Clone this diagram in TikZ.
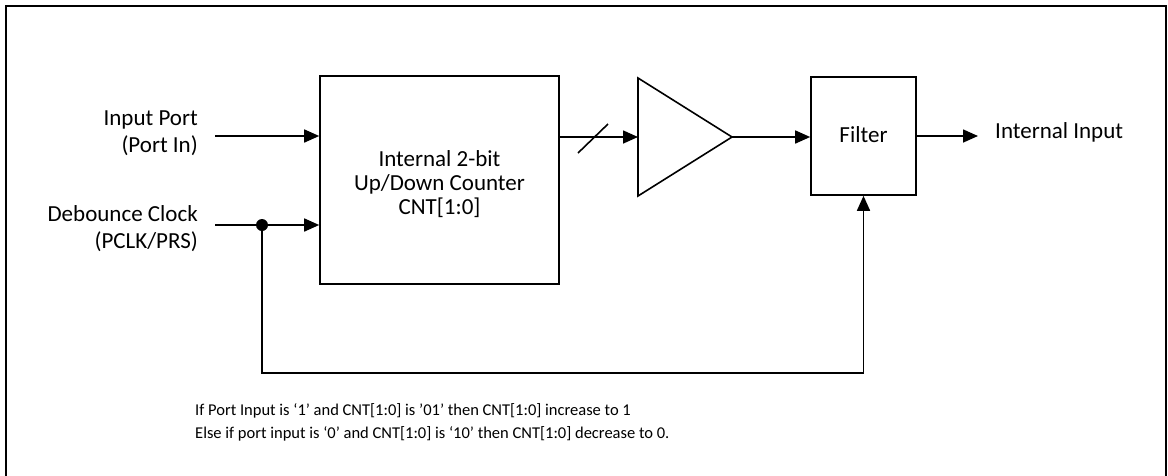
\documentclass[tikz,border=0pt]{standalone}
\usepackage{fontspec}
\setmainfont{Carlito}
\usetikzlibrary{arrows.meta}
\begin{document}
\begin{tikzpicture}[x=1pt,y=-1pt,
  wire/.style={line width=1.6pt},
  arr/.style={wire,-{Triangle[length=15pt,width=13pt]}},
  blk/.style={draw,line width=1.6pt,inner sep=0pt},
  lbl/.style={font=\fontsize{23}{27}\selectfont,inner sep=0pt},
  note/.style={font=\fontsize{16.5}{23}\selectfont,inner sep=0pt,align=left}]
\useasboundingbox (0,0) rectangle (1168,475);
% frame
\draw[line width=2.2pt] (6,480) -- (6,6) -- (1166,6) -- (1166,480);
% blocks
\node[blk,minimum width=239pt,minimum height=208pt] (cnt) at (439.5,180) {};
\node[lbl,align=center,font=\fontsize{23}{24}\selectfont] (cnttxt) at (439.5,184)
  {Internal 2-bit\\Up/Down Counter\\CNT[1:0]};
\node[blk,minimum width=105pt,minimum height=118pt] (flt) at (863.5,136) {};
\node[lbl] (flttxt) at (863.5,135) {Filter};
\coordinate (triW) at (638,137);
\coordinate (triE) at (732,137);
\coordinate (triN) at (638,78);
\coordinate (triS) at (638,196);
\draw[wire,line join=miter] (triN) -- (triE) -- (triS) -- cycle;
% labels
\node[lbl,align=right,anchor=east] (inp) at (198,133) {Input Port\\(Port In)};
\node[lbl,align=right,anchor=east] (clk) at (198,229) {Debounce Clock\\(PCLK/PRS)};
\node[lbl,anchor=west] (out) at (995,132) {Internal Input};
% connectors
\coordinate (inS) at (215,136);
\coordinate (clkS) at (215,225);
\coordinate (dot) at (262,225);
\coordinate (corner1) at (262,373);
\coordinate (corner2) at (863.5,373);
\coordinate (outE) at (978,136);
\coordinate (slA) at (578,153);
\coordinate (slB) at (608,124);
\draw[arr] (inS) -- (cnt.west |- inS);
\draw[arr] (clkS) -- (cnt.west |- clkS);
\fill (dot) circle (6pt);
\draw[arr] (dot) -- (corner1) -- (corner2) -- (flt.south);
\draw[arr] (cnt.east |- triW) -- (triW);
\draw[wire] (slA) -- (slB);
\draw[arr] (triE) -- (flt.west |- triE);
\draw[arr] (flt.east |- outE) -- (outE);
% note
\node[note,anchor=north west] (txt) at (195,403)
  {If Port Input is ‘1’ and CNT[1:0] is ’01' then CNT[1:0] increase to 1\\
   Else if port input is ‘0’ and CNT[1:0] is ‘10’ then CNT[1:0] decrease to 0.};
\end{tikzpicture}
\end{document}
